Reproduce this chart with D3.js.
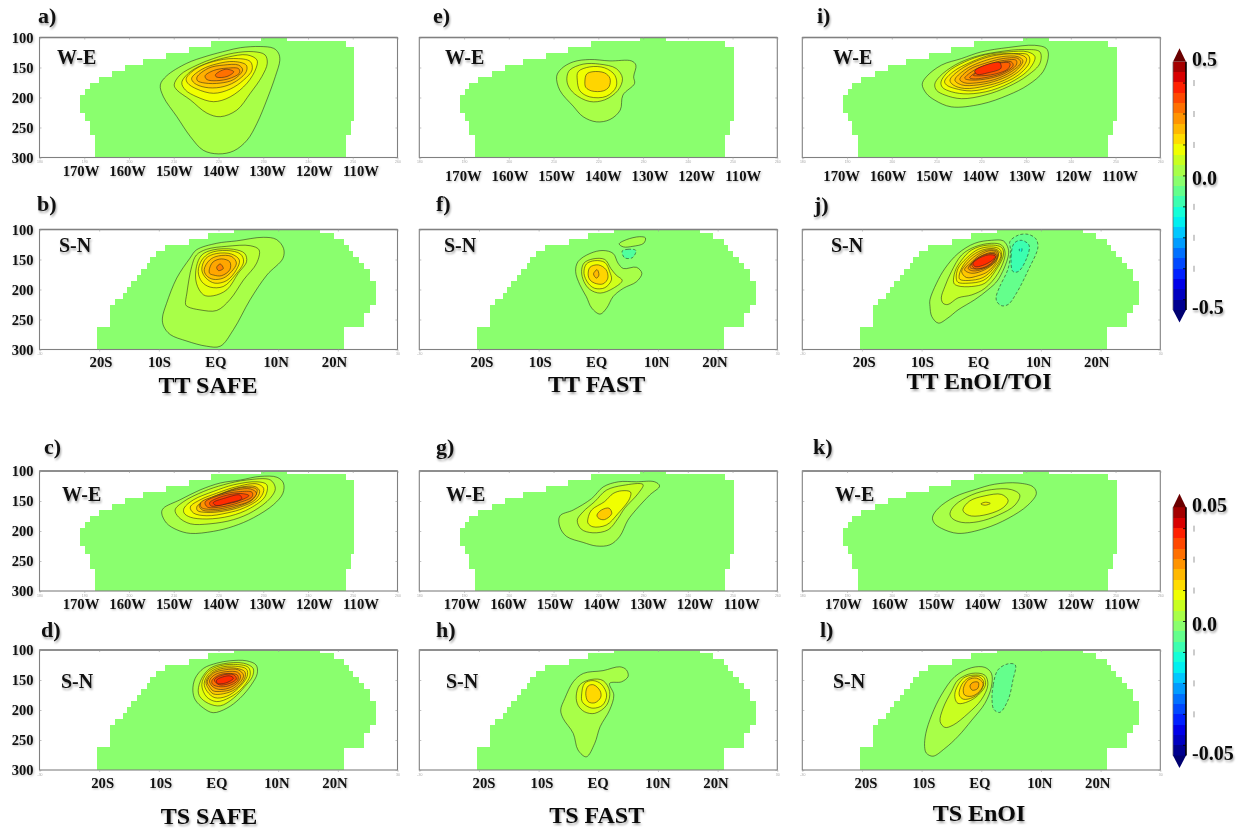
<!DOCTYPE html>
<html>
<head>
<meta charset="utf-8">
<script src="https://cdn.jsdelivr.net/npm/d3@7"></script>
<style>
  html, body { margin: 0; padding: 0; background: #fff; }
  svg { display: block; filter: blur(0.45px); font-family: "Liberation Serif", serif; font-weight: bold; }
  .shadow { filter: drop-shadow(1.5px 2px 1px rgba(0,0,0,0.35)); }
  .soft { filter: drop-shadow(1px 1px 0.8px rgba(0,0,0,0.25)); }
</style>
</head>
<body>
<div id="chart"></div>
<script>
// axis values
const depthTicks = [100, 150, 200, 250, 300];
const lonTicks = [180, 170, 160, 150, 140, 130, 120, 110, 100];
const latTicks = [-30, -20, -10, 0, 10, 20, 30];
const lonLabels = [[170, "170W"], [160, "160W"], [150, "150W"], [140, "140W"], [130, "130W"], [120, "120W"], [110, "110W"]];
const latLabels = [[-20, "20S"], [-10, "10S"], [0, "EQ"], [10, "10N"], [20, "20N"]];

// wet part of each section: depth top, depth bottom, west edge, east edge
const weMaskRows = [
  [100, 105, 130.6, 124.8], [105, 115, 141.7, 111.6], [115, 125, 146.7, 109.7], [125, 135, 151.7, 109.7],
  [135, 145, 156.8, 109.7], [145, 155, 160.9, 109.7], [155, 165, 163.8, 109.7], [165, 175, 166.8, 109.7],
  [175, 185, 168.8, 109.7], [185, 195, 169.8, 109.7], [195, 225, 170.9, 109.7], [225, 238, 169.8, 109.7],
  [238, 262, 168.8, 110.5], [262, 300, 167.6, 111.6]
];
const snMaskRows = [
  [100, 105, 2.6, 17], [105, 115, -1.8, 19.3], [115, 125, -4.9, 21], [125, 135, -8.9, 21.8],
  [135, 145, -10.5, 22.6], [145, 155, -11.5, 23.6], [155, 165, -12, 24.4], [165, 175, -13, 25.4],
  [175, 185, -13.7, 25.4], [185, 195, -14.7, 26.4], [195, 205, -15.3, 26.4], [205, 215, -16, 26.4],
  [215, 225, -17.3, 26.4], [225, 238, -18.2, 25.4], [238, 262, -18.2, 24.4], [262, 300, -20.4, 21]
];

// contour rings: [colour level, [[lon or lat, depth], ...]]
const ringsA = [
  [1, [[153,179],[151.6,164],[147.1,143],[142.6,131],[138.1,122],[135.1,117],[130.7,115],[127.7,118],[126.6,126],[126.3,138],[127.3,165],[129.2,204],[131.4,243],[133.6,271],[136.6,289],[140,294],[143.4,288],[146.3,265],[149.3,232],[152.3,199]]],
  [2, [[149.9,179],[148.6,162.5],[144.8,146],[141.1,135],[136.6,126],[132.2,123.6],[129.6,129],[129.1,143],[130.3,165],[132.9,193],[135.9,221],[139.6,232],[142.6,226],[146.3,204],[149.3,187.5]]],
  [3, [[148.2,175],[146.3,157],[142.6,143],[138.1,133],[133.6,129],[131.4,137.5],[131.6,151],[133.6,176],[137.4,199],[141.1,207],[144.8,199],[147.4,187.5]]],
  [3.7, [[147.2,168],[144.8,151],[141.1,140],[136.6,135],[132.9,140],[132.5,154],[134.4,171],[137.4,186],[141.1,193],[144.8,186],[146.9,176]]],
  [4.5, [[146,168],[143.7,153],[140.4,144],[136.6,140],[133.8,146],[133.8,157],[136.3,174],[139.6,183],[143,183],[145.4,176]]],
  [5.2, [[144.8,166],[142.2,151],[138.9,146],[135.5,146],[134.6,154],[136.6,170],[139.6,176],[143,176],[144.7,172]]],
  [6, [[143,164],[141.1,155],[138.1,151],[135.5,152],[135.3,159],[137.4,168],[140.4,172],[142.6,170]]],
  [7, [[140.7,162.5],[138.5,153],[136.6,157],[138.1,165],[140.4,166]]]
];
const ringsB = [
  [1, [[-9.2,261],[-9.4,247.5],[-8.7,223],[-7,181],[-4.8,148],[-3.7,134],[-0.3,123],[3,119],[7.5,113],[9.7,116.6],[10.9,131.5],[10.8,148],[8.1,176],[5.3,217],[2.5,267],[0.3,294.5],[-2,294.5],[-5.3,286],[-8.1,275]]],
  [1.5, [[-5.5,225.4],[-5.3,206],[-4.5,162],[-3.7,142.5],[-2,133],[1.4,128],[5.3,127],[6.8,134],[6.4,156],[4.2,184],[1.9,217],[-0.3,235],[-3.1,234],[-5.1,229]]],
  [2.6, [[-3.7,189.5],[-3.7,162],[-2.8,142.5],[-0.9,134],[2.5,133],[4.4,140],[4.7,153.6],[3.3,173],[1.4,200.5],[-0.9,210.5],[-2.5,209]]],
  [3.2, [[-3.4,170],[-2.8,151],[-1.4,139],[1.4,135],[3.7,141],[4.2,154],[2.8,176],[0.8,195],[-1.4,196],[-2.8,187]]],
  [4, [[-2.8,167],[-2.1,148],[-0.3,140],[2.2,141],[3.5,151],[3,167],[1.4,185],[-0.6,189.5],[-2.1,181]]],
  [4.8, [[-2.4,167],[-1.5,151],[0,144],[2.2,145],[3,156],[2.2,170],[0.8,181],[-0.9,183],[-2,177]]],
  [5.5, [[-1.5,165],[-0.9,154],[0.5,149],[1.9,154],[1.9,167],[0.5,177],[-0.8,176],[-1.5,173]]],
  [6.5, [[-0.3,163],[0.3,157.5],[0.8,165],[0,168.5]]]
];
const ringsC = [
  [1, [[152.7,170],[152.3,162],[148.6,148],[144.1,131.5],[139.6,120],[135.1,115],[130.7,109],[126.9,110.5],[125.5,120],[125.6,137],[127.7,156],[132.2,178],[136.6,192],[141.1,200.5],[146.3,204],[149.3,198],[151.6,187]]],
  [2, [[149.7,165],[147.8,151],[143.3,134],[138.9,123],[133.7,115],[128.4,115],[127.3,129],[128.4,145],[132.2,167],[136.6,181],[141.9,188],[146.3,188],[148.9,177]]],
  [3, [[147.7,162],[145.6,148],[141.1,134],[136.6,123],[131.4,118],[129.2,123],[129.6,142.5],[132.9,162],[137.4,175],[142.6,180],[146.3,177],[147.7,170]]],
  [3.7, [[146.3,160],[144.1,148],[140.4,137],[135.9,126],[131.4,121.5],[129.9,129],[130.7,145],[134.4,162],[138.1,170],[142.6,174.6],[145.6,170]]],
  [4.5, [[144.8,159],[142.6,148],[138.9,136],[135.1,127],[131.8,126],[130.8,134],[131.8,148],[135.1,160],[138.9,167],[142.6,169],[144.7,166]]],
  [5.2, [[144.3,157],[141.1,145],[137.4,132.6],[133.7,127],[131.4,131],[132.3,147],[135.7,159],[140.2,166],[143.6,165]]],
  [6, [[144,153],[140.5,141],[136,131.5],[132.8,130],[131.5,137],[133,150],[137,159],[141,164],[143.8,161]]],
  [7, [[143,152],[139.5,140],[135.5,134.5],[132.5,135.5],[132.5,143],[135.5,153],[139.5,160],[142.5,160]]],
  [8, [[142,153],[139,142],[135,137.5],[133.2,141],[135.5,150],[139,156],[141.6,158.5]]],
  [8.7, [[141.2,153],[138.5,145],[135.3,140],[134.8,146],[137.5,153],[140.5,157.5]]]
];
const ringsD = [
  [1, [[-4.3,167],[-3.9,147],[-2.5,130.5],[-0.3,122],[1.9,118],[4.7,118],[6.3,125],[6.5,139],[5.5,158],[3.6,180.5],[1.4,197],[-0.9,204.5],[-2.5,197],[-3.9,183]]],
  [2.5, [[-3.4,167],[-2.8,147],[-1.4,130.5],[0.8,123],[4.2,122],[5.8,130.5],[5.7,144],[4.4,161],[2.5,180.5],[0.3,193],[-1.7,189],[-3.1,178]]],
  [3, [[-2.8,158],[-2,139],[-0.3,128],[2.5,124],[5,129],[5.3,142],[3.9,164],[1.9,179],[-0.3,186],[-2,178]]],
  [3.7, [[-2.4,155.5],[-1.5,138],[0.3,129],[2.8,127],[4.7,132],[4.8,144],[3.3,164],[1.4,177],[-0.6,179.5],[-1.9,169]]],
  [4.5, [[-2.1,153],[-1.1,138],[0.8,130.5],[3,130.5],[4.4,136],[4.4,147],[2.8,165.5],[0.8,173],[-0.9,173],[-1.7,164]]],
  [5.2, [[-1.9,153],[-0.9,139],[1.1,133],[3.3,133],[4.2,142],[3.7,153],[2.2,165.5],[0.5,169],[-0.9,168],[-1.5,161]]],
  [6, [[-1.5,151],[-0.6,141],[1.4,136],[3.2,137],[3.7,144],[3.2,154.5],[1.6,164],[0,165.5],[-1.1,160]]],
  [7, [[-1.1,151],[0,142],[1.6,139],[3.2,142],[3.2,151],[1.6,160],[0,161],[-1,157]]],
  [8, [[-0.7,150],[0.6,142],[2.5,141],[3,148],[1.8,156],[0.1,158]]],
  [8.7, [[-0.3,150],[1.8,143],[2.5,147],[1.2,155],[-0.2,155.5]]]
];
const ringsE = [
  [1, [[149.3,164.5],[148.2,151.7],[145.6,140.6],[141.9,136.7],[137.4,139],[132.6,139],[131.6,146],[132.1,165.6],[131.9,176.7],[134.5,196],[135.1,221],[137.4,236.7],[140.4,240.6],[143.4,232],[145.6,214.5],[148.6,188]]],
  [2.2, [[147,165.6],[146.4,154.4],[143.4,144.4],[139.7,144.4],[136,151.7],[134.6,168],[135.6,188],[138.6,204],[141.9,206.7],[145.3,194],[146.8,179]]],
  [3, [[144.7,171],[144.5,157],[141.9,149],[138.6,150.6],[136.3,163],[136,182],[138.2,198],[141.9,199],[144.1,189]]],
  [4.2, [[143,174],[142.6,161],[141.2,157],[138.6,159],[137.4,168],[137.6,182],[138.9,189],[141.5,189],[142.8,183]]]
];
const ringsF = [
  [1, [[-3.8,170],[-3.4,153.6],[-1.4,140],[0.8,135],[2.5,140],[3.3,156],[4.2,165],[6.4,163],[7.3,173],[6.4,187],[4.2,198],[2.5,211.6],[1.4,231],[0.3,241],[-1.1,231],[-2,212],[-3.1,192]]],
  [2.2, [[-2.8,170],[-2.4,156],[-0.9,149],[1.1,150],[2.1,165],[3,176],[4,185],[2.5,198],[0.3,206],[-1.4,200],[-2.4,187]]],
  [3, [[-2.4,173],[-2,157.5],[-0.6,152],[1.1,155],[1.9,170],[2.2,184],[1.1,197],[-0.6,198],[-1.7,189.5]]],
  [4.2, [[-1.7,176],[-1.4,163],[0,159],[1.3,167],[1.6,181],[0.8,190.6],[-0.6,189.5],[-1.4,184]]],
  [5, [[-0.8,174],[-0.2,167],[0.1,176],[-0.3,181]]],
  [1, [[3.5,124],[4.7,117],[6.9,112],[7.9,114],[7.6,123],[5.8,128],[4.2,129]]],
  [-1.5, [[4,136],[5,133],[6.3,135],[5.7,147],[4.4,147]]]
];
const ringsG = [
  [1, [[148.6,175],[145.6,165],[141.5,146],[138.9,126.5],[135.5,118],[131.5,118],[127.4,118],[126.3,125],[128.5,140],[131.5,164],[133.4,182],[135.2,209],[137.4,223],[140.4,225],[143.4,219],[147.1,209],[148.6,193]]],
  [2, [[144.7,182],[143.4,168],[140.8,151],[138.2,132],[134.5,124],[130,122.6],[131.1,137.6],[134.1,162],[135.6,179],[137.8,198],[141.2,203],[143.8,197]]],
  [3, [[142.3,179],[141.5,165],[138.6,151],[136.7,137.6],[134.8,133],[132.8,135],[133,146],[135.6,171],[138.2,190],[141.2,193],[142.3,187]]],
  [4.5, [[140.3,173.5],[139.3,165],[137.6,162],[137,171],[138.6,181],[139.9,179]]]
];
const ringsH = [
  [1, [[-6.3,200],[-5.6,180.5],[-4.2,153],[-2.5,139],[0.8,134.4],[3.6,128],[4.7,133],[5,144],[3.9,153],[1.9,155.6],[2.6,175],[1.9,200],[0.3,228],[-0.6,255.6],[-2,278],[-3.4,266.7],[-4.2,239],[-5.9,214]]],
  [2.2, [[-3.7,176.7],[-3.1,158],[-1.1,149],[0.8,151],[1.9,169],[1.4,192],[-0.6,205.6],[-2.3,203],[-3.4,192]]],
  [3, [[-2.8,175],[-2.3,155.6],[-0.9,151],[0.5,157],[1.4,175],[0.7,192],[-0.9,197],[-2,193],[-2.7,186]]],
  [4.1, [[-2.1,172],[-1.7,160],[-0.8,158],[0.3,168],[0.4,179],[-0.6,188],[-1.7,186]]]
];
const ringsI = [
  [1, [[153.2,178],[152.3,165.6],[148.9,146],[144.4,135],[140,124],[134,116.7],[128.1,113],[125.5,118],[125,129],[126.2,157],[129.6,179.4],[134,196],[140,211],[146.7,215.6],[150.4,204.4],[152.3,193]]],
  [2, [[150.4,178],[149.3,165],[145.9,146],[141.4,132],[136.3,124],[130.3,120],[126.9,124],[126.9,143],[129.6,163],[134,182],[139.2,196],[144.4,202],[148.1,196],[150,188]]],
  [3, [[149,174],[147.4,157],[143.7,140.6],[139.2,129],[134,124],[129.6,124],[128,132],[129.2,152],[132.5,171],[137.7,188],[142.9,194],[146.6,190.6],[148.7,183]]],
  [3.6, [[148.2,173],[146.3,157],[142.2,140.6],[137.7,129],[133.3,127],[129.6,129],[129.2,140.6],[131.8,163],[137,181],[142.2,189],[145.9,185],[147.8,179]]],
  [4.2, [[147,171],[144.8,154],[140.7,138],[136.2,129],[131.7,128],[129.9,135],[131,152],[134.8,171],[139.2,181],[143.7,185],[146.3,179]]],
  [4.8, [[145.9,171],[143.7,154],[140,140.6],[135.5,132],[131.8,132],[130.7,139],[132.5,157],[136.2,171],[140.7,179],[144.4,179]]],
  [5.4, [[144.8,170],[142.6,153],[139.2,143],[135.1,135],[131.8,135],[131.2,142],[133.3,157],[137,170],[141.1,175.6],[143.7,175.6]]],
  [6, [[143.7,168],[141.5,154],[138.1,144],[134.8,138],[132.2,138],[132.2,146],[134.8,160],[138.1,168],[142.2,171]]],
  [6.6, [[142.6,167],[140.3,154],[137,144],[133.3,140.6],[132.9,147],[135.5,160],[139.2,167],[141.8,169]]],
  [7.4, [[141.8,163],[139.2,152],[136.2,143],[133.6,143],[134,152],[137,161],[140.7,164]]],
  [8.6, [[141.5,156],[138.9,145.5],[135.9,142],[135.6,151],[138.6,159],[140.9,161.5]]]
];
const ringsJ = [
  [1, [[-8.6,228],[-8.6,217],[-7.5,189.5],[-6.1,165],[-3.9,140],[-1.1,123],[1.7,118],[3.7,119],[4.5,131.5],[4.5,145],[2.8,184],[1.1,200.6],[-1.1,217],[-3.9,234],[-5.6,247.5],[-7.2,256],[-8.3,245]]],
  [1.8, [[-6.7,214],[-6.1,195],[-5,170],[-3.3,142.5],[-1.1,129],[1.7,123],[3.4,126],[4,140],[2.8,173],[0.6,198],[-1.6,209],[-3.9,214],[-5.6,225],[-6.4,223]]],
  [2.8, [[-4.6,189.5],[-4.4,170],[-3.3,151],[-1.6,134],[1.1,126],[3.4,130],[3.7,142.5],[2.3,170],[0.6,189.5],[-1.6,195],[-3.9,194]]],
  [3.4, [[-4.2,181],[-3.9,165],[-2.5,148],[-0.5,133],[1.7,129],[3.1,133],[3.4,145],[2,170],[0.3,185],[-2.2,189.5],[-3.9,188]]],
  [4, [[-3.7,176],[-3,159],[-1.4,142.5],[0.6,133],[2.5,133],[3.3,142.5],[2,165],[0.3,180],[-2.2,185],[-3.6,183]]],
  [4.6, [[-3.3,170],[-2.5,157.5],[-0.8,142.5],[1.1,134],[2.8,137],[2.5,154],[1.1,170],[-0.5,177],[-2.5,180]]],
  [5.2, [[-2.8,167],[-1.6,154],[-0.3,142.5],[1.7,135],[2.8,140],[2.3,154],[0.6,167],[-1.6,173]]],
  [5.8, [[-2.2,165],[-1.4,154],[0.3,142.5],[2,138],[2.7,142.5],[2,156],[0.3,166],[-1.4,169]]],
  [6.5, [[-1.9,163],[-0.8,150],[0.9,142.5],[2.3,141],[2.1,152],[0.9,162],[-0.8,166]]],
  [7.4, [[-1.6,158],[-0.3,146],[1.6,140],[2.5,143],[1.9,154],[0.5,163],[-1.1,165]]],
  [8.7, [[-1.4,157],[-0.2,147],[1.6,142],[2.4,145],[1.6,153],[0.2,160],[-1,162]]],
  [-1, [[2.5,211.6],[3.1,195],[4.5,165],[4.9,134],[4.8,120],[6.2,109.4],[7.8,108],[9.1,115],[9.5,129],[7.9,167],[5.9,206],[4.5,225],[3.4,227],[2.6,220]]],
  [-2, [[5.3,170],[5,145],[5.5,123],[6.7,118],[8,126],[7.6,148],[6.2,170]]],
  [-3, [[6.3,134],[6.8,131.5],[6.7,137]]]
];
const ringsK = [
  [1, [[150.9,177],[149.6,162],[145.9,143],[141.4,131],[137,122],[131.8,120],[128.4,126.5],[127.7,137.6],[129.6,157],[134,179],[139.2,195.6],[145.2,204],[148.9,195.6],[150.5,187]]],
  [1.7, [[147,171],[145.9,157],[142.2,140],[137.7,131],[133.3,131],[131.4,140],[132.5,157],[136.2,173.5],[140.7,184.5],[144.4,185.6],[146.5,179]]],
  [2.6, [[144.1,164],[142.6,150],[139.2,141.4],[135.5,139],[134,149],[135.1,161],[138.5,172],[142.2,175],[143.7,170]]],
  [3.4, [[140.1,155],[139.1,152],[138,154],[139.1,157]]]
];
const ringsL = [
  [1, [[-9.5,261],[-9.3,239],[-8.3,208],[-6.7,175],[-4.4,144],[-1.6,129.4],[0.6,129],[1.7,139],[1.7,161],[0.6,189],[-1.6,217],[-3.9,244],[-6.1,264],[-8.1,277],[-9.2,272]]],
  [2, [[-6.9,219.4],[-6.4,197],[-5,169],[-3.9,150],[-1.6,139],[0.6,142],[1.1,158],[0,183],[-2.2,205.6],[-4.7,225],[-6.1,229]]],
  [3, [[-4.4,180.6],[-4.3,167],[-3,147],[-1.4,142],[0.3,144.4],[0.7,158],[-0.5,175],[-2.2,186],[-3.9,189]]],
  [4, [[-3.7,175],[-3.3,158],[-2.2,147],[-0.5,144],[0.4,153],[0,167],[-1.4,179],[-3,182]]],
  [4.6, [[-3,164],[-2.2,150],[-0.8,147],[0.3,155.6],[-0.3,169],[-1.6,177],[-2.8,175]]],
  [5.4, [[-1.9,160],[-1.4,154],[-0.5,154],[-0.6,164],[-1.5,167]]],
  [-1, [[1.8,183],[2,158],[2.8,133],[4.5,123],[5.7,125],[5.3,150],[4.5,183],[3.1,204],[2.1,199]]]
];

// colour bar bands from top to bottom, the 12th is the zero band
const barColors = ["#a40000", "#d80000", "#ff2000", "#ff4800", "#ff7000", "#ff9400", "#ffb800", "#ffdc00", "#f0ff00", "#c8ff20", "#a8ff48", "#8aff6e",
  "#64ff8c", "#3cffb0", "#14ffd8", "#00f0f0", "#00c8ff", "#009cff", "#0070ff", "#0048ff", "#0020ff", "#0000e8", "#0000c0", "#000090"];
const barLevels = barColors.map((c, i) => 11 - i);
const barTicksT = [-0.5, -0.375, -0.25, -0.125, 0, 0.125, 0.25, 0.375];
const barTicksS = [-0.05, -0.0375, -0.025, -0.0125, 0, 0.0125, 0.025, 0.0375];

const colLeft = [39.5, 419.3, 802.3];
const panelW = 358;
const panelH = 120;

const panels = [
  { id: "a)", kind: "we", col: 0, top: 37.5, rings: ringsA, name: "W-E", nameX: 57, nameY: 64, idX: 38, idY: 23, labelY: 175.5, labelX: [81, 361], yLabels: true },
  { id: "b)", kind: "sn", col: 0, top: 229.5, rings: ringsB, name: "S-N", nameX: 59, nameY: 252, idX: 37, idY: 211, labelY: 366.5, labelX: [101, 334.5], yLabels: true },
  { id: "c)", kind: "we", col: 0, top: 471, rings: ringsC, name: "W-E", nameX: 62, nameY: 500.5, idX: 44, idY: 454, labelY: 608.5, labelX: [81, 361], yLabels: true },
  { id: "d)", kind: "sn", col: 0, top: 650, rings: ringsD, name: "S-N", nameX: 61, nameY: 688, idX: 41, idY: 637, labelY: 787.5, labelX: [102.7, 335], yLabels: true },
  { id: "e)", kind: "we", col: 1, top: 37.5, rings: ringsE, name: "W-E", nameX: 445, nameY: 64, idX: 433, idY: 23, labelY: 181, labelX: [463.3, 743.3] },
  { id: "f)", kind: "sn", col: 1, top: 229.5, rings: ringsF, name: "S-N", nameX: 444, nameY: 252, idX: 436, idY: 211, labelY: 367, labelX: [482, 715] },
  { id: "g)", kind: "we", col: 1, top: 471, rings: ringsG, name: "W-E", nameX: 446, nameY: 500.5, idX: 436, idY: 453.5, labelY: 609, labelX: [462, 741.7] },
  { id: "h)", kind: "sn", col: 1, top: 650, rings: ringsH, name: "S-N", nameX: 446, nameY: 688, idX: 436, idY: 637, labelY: 788, labelX: [484, 716] },
  { id: "i)", kind: "we", col: 2, top: 37.5, rings: ringsI, name: "W-E", nameX: 833, nameY: 64, idX: 817, idY: 23, labelY: 181, labelX: [841.7, 1120] },
  { id: "j)", kind: "sn", col: 2, top: 229.5, rings: ringsJ, name: "S-N", nameX: 831, nameY: 252, idX: 814, idY: 212, labelY: 367, labelX: [864.3, 1096.7] },
  { id: "k)", kind: "we", col: 2, top: 471, rings: ringsK, name: "W-E", nameX: 835, nameY: 501, idX: 813, idY: 454, labelY: 609, labelX: [843.3, 1122.3] },
  { id: "l)", kind: "sn", col: 2, top: 650, rings: ringsL, name: "S-N", nameX: 833, nameY: 688, idX: 820, idY: 637, labelY: 788, labelX: [866, 1097.7] }
];

const titles = [
  ["TT SAFE", 208, 392.5], ["TT FAST", 596.7, 391.5], ["TT EnOI/TOI", 979, 389],
  ["TS SAFE", 209, 824], ["TS FAST", 596.7, 823], ["TS EnOI", 979, 821]
];

const svg = d3.select("#chart").append("svg")
  .attr("width", 1247)
  .attr("height", 831)
  .attr("viewBox", [0, 0, 1247, 831]);

const levelColor = d3.scaleLinear().domain(barLevels.slice().reverse()).range(barColors.slice().reverse());

function drawPanel(p, i) {
  const left = colLeft[p.col];
  const isWE = p.kind === "we";
  const x = d3.scaleLinear().domain(isWE ? [180, 100] : [-30, 30]).range([left, left + panelW]);
  const y = d3.scaleLinear().domain([100, 300]).range([p.top, p.top + panelH]);
  const g = svg.append("g");

  g.append("clipPath").attr("id", "clip" + i).append("rect")
    .attr("x", left).attr("y", p.top).attr("width", panelW).attr("height", panelH);

  // stepped green section
  const rows = isWE ? weMaskRows : snMaskRows;
  g.append("g").selectAll("rect").data(rows).join("rect")
    .attr("x", d => x(d[2]))
    .attr("y", d => y(d[0]))
    .attr("width", d => x(d[3]) - x(d[2]))
    .attr("height", d => y(d[1]) - y(d[0]) + 0.3)
    .attr("fill", levelColor(0))
    .attr("shape-rendering", "crispEdges");

  // filled contours, outer first
  const ringLine = d3.line()
    .x(d => x(d[0]))
    .y(d => y(d[1]))
    .curve(d3.curveCatmullRomClosed.alpha(0.5));

  g.append("g").attr("clip-path", `url(#clip${i})`)
    .selectAll("path").data(p.rings).join("path")
    .attr("d", d => ringLine(d[1]))
    .attr("fill", d => levelColor(d[0]))
    .attr("stroke", "#1c1c1c")
    .attr("stroke-opacity", 0.7)
    .attr("stroke-width", 0.75)
    .attr("stroke-dasharray", d => d[0] < 0 ? "3,2" : null);

  // frame and small ticks
  g.append("rect")
    .attr("x", left).attr("y", p.top).attr("width", panelW).attr("height", panelH)
    .attr("fill", "none").attr("stroke", "#808080").attr("stroke-width", 1.1);
  g.append("line")
    .attr("x1", left).attr("x2", left + panelW).attr("y1", p.top).attr("y2", p.top)
    .attr("stroke", "#808080").attr("stroke-width", 1.6);

  const tickVals = isWE ? lonTicks : latTicks;
  // the faint numbers under the frame, the S-N panels only show them at the ends
  const bottomAxis = d3.axisBottom(x).tickValues(tickVals).tickSize(2)
    .tickFormat(d => isWE ? 360 - d : (Math.abs(d) === 30 ? d : ""));
  const axisB = g.append("g").attr("transform", `translate(0,${p.top + panelH})`).call(bottomAxis);
  axisB.select(".domain").remove();
  axisB.selectAll("line").attr("stroke", "#aaa").attr("stroke-width", 0.6);
  axisB.selectAll("text").attr("fill", "#aaa").attr("font-size", 3.5).attr("font-weight", "normal").attr("dy", "0.2em");

  const topAxis = d3.axisTop(x).tickValues(tickVals).tickSize(-2).tickFormat("");
  const axisT = g.append("g").attr("transform", `translate(0,${p.top})`).call(topAxis);
  axisT.select(".domain").remove();
  axisT.selectAll("line").attr("stroke", "#999").attr("stroke-width", 0.6);

  const leftAxis = d3.axisLeft(y).tickValues(depthTicks).tickSize(-2).tickPadding(6);
  if (!p.yLabels) leftAxis.tickFormat("");
  const axisL = g.append("g").attr("transform", `translate(${left},0)`).call(leftAxis);
  axisL.select(".domain").remove();
  axisL.selectAll("line").attr("stroke", "#999").attr("stroke-width", 0.6);
  axisL.selectAll("text").attr("class", "soft").attr("fill", "#111")
    .attr("font-size", 14.5).attr("font-family", "Liberation Serif").attr("font-weight", "bold");

  const rightAxis = d3.axisRight(y).tickValues(depthTicks).tickSize(-2).tickFormat("");
  const axisR = g.append("g").attr("transform", `translate(${left + panelW},0)`).call(rightAxis);
  axisR.select(".domain").remove();
  axisR.selectAll("line").attr("stroke", "#999").attr("stroke-width", 0.6);

  // hand placed axis labels, spaced a bit wider than the ticks
  const labels = isWE ? lonLabels : latLabels;
  const labelPos = d3.scaleLinear().domain([labels[0][0], labels[labels.length - 1][0]]).range(p.labelX);
  g.append("g").attr("class", "soft").selectAll("text").data(labels).join("text")
    .attr("x", d => labelPos(d[0]) + (d[1] === "EQ" ? -2 : 0))
    .attr("y", p.labelY)
    .attr("text-anchor", "middle")
    .attr("font-size", 14.7)
    .attr("fill", "#111")
    .text(d => d[1]);

  g.append("text").attr("class", "shadow")
    .attr("x", p.nameX).attr("y", p.nameY)
    .attr("font-size", 20).attr("fill", "#111")
    .text(p.name);

  g.append("text").attr("class", "shadow")
    .attr("x", p.idX).attr("y", p.idY)
    .attr("font-size", 22).attr("fill", "#111")
    .text(p.id);
}

panels.forEach(drawPanel);

svg.append("g").selectAll("text").data(titles).join("text")
  .attr("class", "shadow")
  .attr("x", d => d[1])
  .attr("y", d => d[2])
  .attr("text-anchor", "middle")
  .attr("font-size", 24)
  .attr("fill", "#0a0a0a")
  .text(d => d[0]);

function drawColorBar(top, ticks, maxText, minText, zeroY, maxY, minY) {
  const barLeft = 1173;
  const barRight = 1186;
  const barBottom = top + 248.3;
  const band = d3.scaleBand().domain(d3.range(barColors.length)).range([top, barBottom]);
  const maxVal = d3.max(ticks.map(Math.abs));
  const yVal = d3.scaleLinear().domain([-maxVal, maxVal]).range([top + 238, top - 9.6]);
  const g = svg.append("g");

  g.append("g").selectAll("rect").data(barColors).join("rect")
    .attr("x", barLeft)
    .attr("y", (d, i) => band(i))
    .attr("width", barRight - barLeft)
    .attr("height", band.bandwidth() + 0.3)
    .attr("fill", d => d)
    .attr("shape-rendering", "crispEdges");

  const tri = d3.line();
  g.append("path")
    .attr("d", tri([[barLeft, top], [barLeft + 6.5, top - 13.5], [barRight, top]]) + "Z")
    .attr("fill", "#6a0000");
  g.append("path")
    .attr("d", tri([[barLeft, barBottom], [barLeft + 6.5, barBottom + 12.5], [barRight, barBottom]]) + "Z")
    .attr("fill", "#000070");

  g.append("line").attr("x1", barRight).attr("x2", barRight).attr("y1", top).attr("y2", barBottom)
    .attr("stroke", "#000").attr("stroke-width", 1.6);
  g.append("line").attr("x1", barLeft).attr("x2", barLeft).attr("y1", top).attr("y2", barBottom)
    .attr("stroke", "#666").attr("stroke-width", 0.8);

  g.append("g").selectAll("line").data(ticks.filter(d => d !== 0 && d !== -maxVal)).join("line")
    .attr("x1", 1194).attr("x2", 1194)
    .attr("y1", d => yVal(d) - 3).attr("y2", d => yVal(d) + 3)
    .attr("stroke", "#999").attr("stroke-width", 1);
  g.append("g").selectAll("line").data(ticks).join("line")
    .attr("x1", barRight - 3).attr("x2", barRight)
    .attr("y1", d => yVal(d)).attr("y2", d => yVal(d))
    .attr("stroke", "#000").attr("stroke-width", 0.8);

  g.append("g").attr("class", "shadow").selectAll("text")
    .data([[maxText, maxY], ["0.0", zeroY], [minText, minY]]).join("text")
    .attr("x", 1192)
    .attr("y", d => d[1])
    .attr("font-size", 20)
    .attr("fill", "#0a0a0a")
    .text(d => d[0]);
}

drawColorBar(61.7, barTicksT, "0.5", "-0.5", 184.5, 65.7, 314);
drawColorBar(507.3, barTicksS, "0.05", "-0.05", 630.7, 511.7, 760);
</script>
</body>
</html>
